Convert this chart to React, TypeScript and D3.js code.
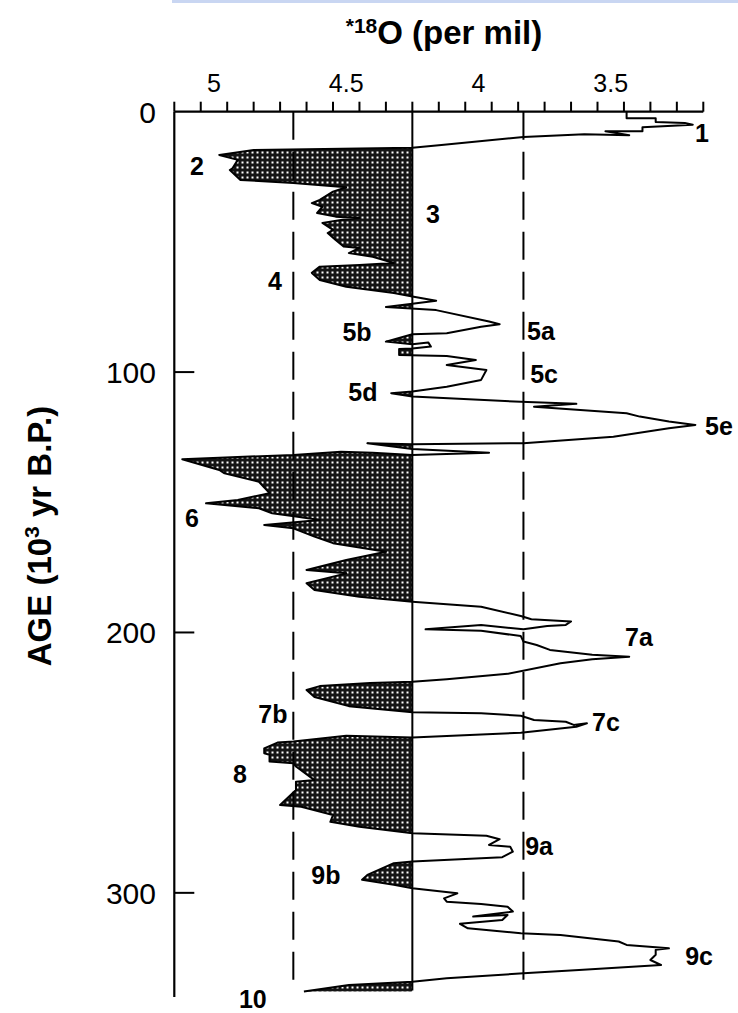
import React from 'react';
import * as d3 from 'd3';

// oxygen isotope record, age (10^3 yr B.P.) vs d18O (per mil)
const ages = [
  0, 2.5, 2.5, 4.0, 4.3, 5.0, 6.0, 7.5, 7.5, 9.0, 8.7, 9.7, 12.8, 13.8,
  14.7, 16.6, 18.5, 21.7, 22.4, 26.2, 27.4, 29.0, 30.7, 33.9, 35.1, 36.5, 38.9, 40.3, 40.8, 41.6,
  42.7, 45.4, 46.6, 49.3, 51.8, 52.3, 54.3, 55.7, 58.1, 58.9, 59.5, 61.9, 64.6, 67.2, 69.6, 71.0,
  72.6, 73.8, 75.0, 76.2, 80.6, 81.6, 82.6, 85.1, 85.5, 88.3, 89.3, 88.6, 90.2, 90.9, 91.1, 93.4,
  93.8, 95.4, 97.3, 99.2, 103.0, 105.6, 107.5, 108.1, 109.4, 111.4, 112.2, 113.3, 115.8, 117.1,
  119.0, 120.3, 121.6, 124.8, 127.3, 127.7, 127.3, 129.5, 131.0, 131.8,
  131.0, 130.6, 131.8, 133.5, 137.6, 138.9, 142.1, 146.5, 149.1, 150.4, 152.3, 154.2, 155.5, 156.8,
  158.7, 160.0, 163.2, 165.7, 169.0, 172.2, 176.0, 177.3, 181.1, 183.7, 186.3, 188.2,
  190.1, 193.7, 194.9, 195.8, 197.1, 197.5, 198.8, 197.1, 198.8, 199.3, 201.4, 203.5, 204.8, 206.7,
  208.6, 209.3, 210.3, 211.8, 215.9, 218.0, 218.9, 219.4, 220.6, 222.1, 224.8, 228.3, 230.6,
  231.0, 232.0, 233.6, 234.3, 235.5, 234.9, 236.2, 238.5, 240.3,
  239.7, 241.9, 242.3, 244.5, 246.4, 247.0, 249.6, 250.2, 251.5, 256.7, 257.3, 260.5, 266.3, 266.9,
  270.1, 272.7, 274.6, 277.1,
  278.1, 279.4, 281.6, 282.3, 284.2, 286.3, 288.0, 288.6, 293.1, 295.0, 296.9, 298.2,
  300.2, 302.1, 303.4, 304.3, 305.3, 307.2, 309.1, 308.5, 310.4, 311.9, 313.6, 315.5, 316.2, 318.7,
  320.0, 321.3, 321.9, 323.8, 325.8, 327.7, 329.6, 330.9, 332.8, 334.1,
  335.4, 337.9,
];

const d18O = [
  3.44, 3.44, 3.33, 3.33, 3.22, 3.19, 3.38, 3.38, 3.52, 3.43, 3.60, 3.83, 4.14, 4.25,
  4.85, 4.98, 4.91, 4.93, 4.94, 4.90, 4.70, 4.50, 4.55, 4.60, 4.63, 4.59, 4.61, 4.54, 4.45, 4.52,
  4.59, 4.55, 4.57, 4.54, 4.51, 4.45, 4.49, 4.40, 4.32, 4.45, 4.60, 4.63, 4.60, 4.50, 4.32, 4.25,
  4.16, 4.25, 4.35, 4.16, 3.96, 3.92, 3.99, 4.12, 4.25, 4.35, 4.25, 4.19, 4.18, 4.25, 4.30, 4.30,
  4.12, 4.01, 4.12, 3.97, 3.99, 4.12, 4.25, 4.33, 4.25, 3.84, 3.63, 3.79, 3.44, 3.39,
  3.28, 3.18, 3.28, 3.49, 3.83, 4.25, 4.42, 4.25, 3.96, 4.25,
  4.40, 4.52, 4.70, 5.12, 4.98, 4.96, 4.83, 4.79, 4.91, 5.03, 4.83, 4.78, 4.69, 4.60,
  4.81, 4.70, 4.62, 4.55, 4.35, 4.50, 4.65, 4.50, 4.65, 4.62, 4.45, 4.25,
  3.99, 3.84, 3.80, 3.65, 3.67, 3.74, 3.83, 3.99, 4.20, 3.99, 3.84, 3.83, 3.78, 3.73,
  3.57, 3.43, 3.57, 3.69, 3.89, 4.12, 4.25, 4.41, 4.60, 4.65, 4.62, 4.49, 4.25,
  3.99, 3.84, 3.79, 3.67, 3.64, 3.59, 3.63, 3.84, 4.25,
  4.50, 4.70, 4.76, 4.81, 4.81, 4.79, 4.79, 4.70, 4.69, 4.62, 4.69, 4.69, 4.75, 4.67,
  4.55, 4.56, 4.45, 4.25,
  3.97, 3.92, 3.96, 3.88, 3.87, 3.91, 4.25, 4.32, 4.42, 4.44, 4.32, 4.25,
  4.08, 4.13, 4.12, 3.99, 3.89, 3.87, 4.02, 3.89, 3.91, 4.07, 4.04, 3.84, 3.69, 3.47,
  3.44, 3.28, 3.33, 3.33, 3.35, 3.31, 3.62, 3.83, 4.12, 4.25,
  4.49, 4.66,
];

const meanValue = 4.25;
const limitValues = [4.7, 3.83];

const xTickLabels = [5, 4.5, 4, 3.5];
const yTickValues = [100, 200, 300];
const yTickLabels = [0, 100, 200, 300];

// isotope stage labels, placed at [d18O, age]
const stageNames = ['1', '2', '3', '4', '5a', '5b', '5c', '5d', '5e', '6', '7a', '7b', '7c', '8', '9a', '9b', '9c', '10'];
const stageValues = [3.155, 5.064, 4.172, 4.769, 3.764, 4.459, 3.752, 4.437, 3.091, 5.083, 3.393, 4.777, 3.518, 4.902, 3.771, 4.577, 3.166, 4.853];
const stageAges = [11.6, 24.3, 42.8, 68.5, 87.7, 88.1, 104.2, 111.1, 124.2, 159.5, 205.2, 234.7, 237.8, 257.8, 285.5, 296.6, 327.7, 344.2];

const W = 738;
const H = 1013;

export default function App() {
  const x = d3.scaleLinear().domain([5.15, 3.15]).range([174.3, 703.3]);
  const y = d3.scaleLinear().domain([0, 340]).range([111.7, 997]);

  const pts: [number, number][] = ages.map((a, i) => [x(d18O[i]), y(a)]);
  const line = d3.line();
  const curve = line(pts) || '';
  const last = ages[ages.length - 1];
  const shade = (line([...pts, [x(meanValue), y(last)], [x(meanValue), y(ages[0])]]) || '') + 'Z';

  const minorTicks = d3.range(21).map(i => 5.15 - i * 0.1);
  const font = 'Liberation Sans, Arial, sans-serif';

  return (
    <div style={{ position: 'absolute', left: 0, top: 0 }}>
      <svg width={W} height={H} style={{ display: 'block', background: '#fff' }}>
        <defs>
          <pattern id="dots" width={5} height={5} patternUnits="userSpaceOnUse">
            <rect width={5} height={5} fill="#141414" />
            <rect x={1.5} y={1.5} width={2} height={2} fill="#fff" />
          </pattern>
          <clipPath id="leftOfMean">
            <rect x={0} y={0} width={x(meanValue)} height={H} />
          </clipPath>
        </defs>

        <rect x={172} y={0} width={W - 172} height={3} fill="#c9d6f2" />

        {/* title */}
        <text x={444} y={44} textAnchor="middle" fontFamily={font} fontWeight="bold" fontSize={33}>
          <tspan fontSize={21} dy={-11}>*18</tspan>
          <tspan dy={11}>O (per mil)</tspan>
        </text>
        <text
          transform="translate(51,536) rotate(-90)"
          textAnchor="middle"
          fontFamily={font}
          fontWeight="bold"
          fontSize={33}
        >
          AGE (10<tspan fontSize={21} dy={-12}>3</tspan><tspan dy={12}> yr B.P.)</tspan>
        </text>

        {/* shaded glacial intervals */}
        <path d={shade} fill="url(#dots)" clipPath="url(#leftOfMean)" />

        {/* reference lines */}
        <line x1={x(meanValue)} x2={x(meanValue)} y1={y(0)} y2={y(337.5)} stroke="#000" strokeWidth={2} />
        {limitValues.map(v => (
          <line key={v} x1={x(v)} x2={x(v)} y1={y(0)} y2={y(334.5)} stroke="#000" strokeWidth={2} strokeDasharray="28,12" />
        ))}

        <path d={curve} fill="none" stroke="#000" strokeWidth={2} strokeLinejoin="round" />

        {/* axes */}
        <line x1={x(5.15)} x2={x(3.15)} y1={y(0)} y2={y(0)} stroke="#000" strokeWidth={2.2} />
        {minorTicks.map(t => (
          <line key={t} x1={x(t)} x2={x(t)} y1={y(0)} y2={y(0) - 10} stroke="#000" strokeWidth={2} />
        ))}
        {xTickLabels.map(t => (
          <text key={t} x={x(t)} y={92} textAnchor="middle" fontFamily={font} fontSize={25}>{t}</text>
        ))}
        <line x1={x(5.15)} x2={x(5.15)} y1={y(0)} y2={y(340)} stroke="#000" strokeWidth={2.2} />
        {yTickValues.map(t => (
          <line key={t} x1={x(5.15)} x2={x(5.15) + 20} y1={y(t)} y2={y(t)} stroke="#000" strokeWidth={2} />
        ))}
        {yTickLabels.map(t => (
          <text key={t} x={156} y={y(t)} dy="0.36em" textAnchor="end" fontFamily={font} fontSize={30}>{t}</text>
        ))}

        {stageNames.map((s, i) => (
          <text key={s} x={x(stageValues[i])} y={y(stageAges[i])} textAnchor="middle" fontFamily={font} fontWeight="bold" fontSize={25}>
            {s}
          </text>
        ))}
      </svg>
    </div>
  );
}
